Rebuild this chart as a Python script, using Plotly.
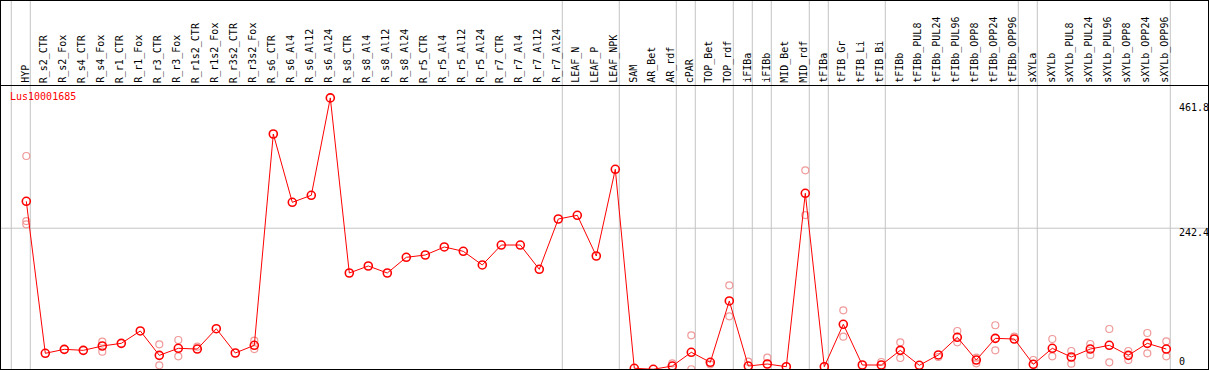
import plotly.graph_objects as go

# ---------------- data ----------------
categories = [
    "HYP", "R_s2_CTR", "R_s2_Fox", "R_s4_CTR", "R_s4_Fox", "R_r1_CTR", "R_r1_Fox",
    "R_r3_CTR", "R_r3_Fox", "R_r1s2_CTR", "R_r1s2_Fox", "R_r3s2_CTR", "R_r3s2_Fox",
    "R_s6_CTR", "R_s6_Al4", "R_s6_Al12", "R_s6_Al24", "R_s8_CTR", "R_s8_Al4",
    "R_s8_Al12", "R_s8_Al24", "R_r5_CTR", "R_r5_Al4", "R_r5_Al12", "R_r5_Al24",
    "R_r7_CTR", "R_r7_Al4", "R_r7_Al12", "R_r7_Al24", "LEAF_N", "LEAF_P", "LEAF_NPK",
    "SAM", "AR_Bet", "AR_rdf", "cPAR", "TOP_Bet", "TOP_rdf", "iFIBa", "iFIBb",
    "MID_Bet", "MID_rdf", "tFIBa", "tFIB_Gr", "tFIB_Li", "tFIB_Bi", "tFIBb",
    "tFIBb_PUL8", "tFIBb_PUL24", "tFIBb_PUL96", "tFIBb_OPP8", "tFIBb_OPP24",
    "tFIBb_OPP96", "sXYLa", "sXYLb", "sXYLb_PUL8", "sXYLb_PUL24", "sXYLb_PUL96",
    "sXYLb_OPP8", "sXYLb_OPP24", "sXYLb_OPP96",
]

mean_values = [
    287.7, 31.8, 38.5, 36.8, 44.1, 48.6, 69.4,
    28.4, 40.2, 39.0, 73.2, 32.3, 45.3,
    401.0, 286.0, 297.8, 461.8, 167.0, 178.8,
    167.0, 193.4, 197.3, 210.8, 203.5, 180.5,
    214.1, 214.1, 173.2, 257.9, 264.1, 195.6, 341.6,
    6.6, 4.9, 10.4, 33.5, 16.7, 119.9, 10.4, 13.8,
    9.3, 301.2, 9.3, 80.6, 12.1, 12.1, 36.8,
    11.6, 29.0, 58.8, 20.5, 57.0,
    55.9, 13.3, 40.2, 25.6, 39.0, 45.3,
    28.4, 48.6, 39.0,
]

rep_categories = [
    "HYP", "HYP", "HYP", "R_s4_Fox", "R_s4_Fox", "R_r3_CTR", "R_r3_CTR",
    "R_r3_Fox", "R_r3_Fox", "R_r1s2_CTR", "R_r3s2_Fox", "R_r3s2_Fox",
    "AR_rdf", "cPAR", "cPAR", "TOP_Bet", "TOP_rdf", "TOP_rdf", "iFIBa", "iFIBb",
    "MID_rdf", "MID_rdf", "tFIB_Gr", "tFIB_Gr", "tFIB_Bi", "tFIBb", "tFIBb",
    "tFIBb_PUL24", "tFIBb_PUL96", "tFIBb_PUL96", "tFIBb_OPP8", "tFIBb_OPP8",
    "tFIBb_OPP24", "tFIBb_OPP24", "tFIBb_OPP96", "sXYLa", "sXYLb", "sXYLb",
    "sXYLb_PUL8", "sXYLb_PUL8", "sXYLb_PUL24", "sXYLb_PUL24", "sXYLb_PUL96",
    "sXYLb_PUL96", "sXYLb_OPP8", "sXYLb_OPP8", "sXYLb_OPP24", "sXYLb_OPP24",
    "sXYLb_OPP96", "sXYLb_OPP96",
]
rep_values = [
    364.0, 254.5, 249.0, 51.4, 34.5, 47.0, 11.6,
    54.2, 26.8, 43.0, 53.0, 39.0,
    15.0, 62.0, 5.0, 13.3, 146.3, 94.1, 17.7, 24.4,
    339.9, 264.6, 104.2, 59.8, 17.2, 50.3, 23.9,
    25.6, 69.4, 50.3, 24.4, 15.0,
    79.0, 36.8, 59.8, 20.5, 55.9, 26.8,
    35.7, 14.3, 47.5, 29.0, 72.7,
    16.7, 35.7, 20.5, 66.0, 31.8,
    52.0, 26.8,
]

# group separators: drawn just after these categories ("" = before the first)
separator_after = ["", "HYP", "R_r7_Al24", "LEAF_NPK", "AR_rdf", "cPAR", "TOP_rdf",
                   "iFIBa", "iFIBb", "MID_rdf", "tFIBa", "tFIB_Bi", "tFIBb_OPP96",
                   "sXYLa", "sXYLb_OPP96"]

gene_name = "Lus10001685"
ytick_values = [0, 242.4, 461.8]
ytick_labels = ["0", "242.4", "461.8"]

# ---------------- layout geometry ----------------
W, H = 1209, 370
X0_PX, X_STEP = 26.3, 19.0          # pixel of first category, pixels per category
Y0_PX, Y_SCALE = 372.2, 0.594        # pixel of value 0, pixels per unit

x_lo = -X0_PX / X_STEP
x_hi = x_lo + W / X_STEP
y_lo = (Y0_PX - H) / Y_SCALE
y_hi = Y0_PX / Y_SCALE

def px_x(p):
    return p / W

def px_y(p):
    return 1 - p / H

idx = {c: i for i, c in enumerate(categories)}
mono = "DejaVu Sans Mono"

fig = go.Figure()

fig.add_trace(go.Scatter(
    x=[idx[c] for c in rep_categories], y=rep_values, mode="markers",
    marker=dict(symbol="circle-open", size=7, color="#f09a9a", line=dict(width=1.2)),
    hoverinfo="skip", showlegend=False,
))
fig.add_trace(go.Scatter(
    x=list(range(len(categories))), y=mean_values, mode="lines+markers",
    line=dict(color="#ff0000", width=1),
    marker=dict(symbol="circle-open", size=8, color="#ff0000", line=dict(width=1.6)),
    text=categories, showlegend=False,
))

shapes = []
# gray separators
for c in separator_after:
    i = idx[c] if c else -1
    shapes.append(dict(type="line", xref="x", yref="paper", x0=i + 0.21, x1=i + 0.21,
                       y0=0, y1=1, line=dict(color="#c4c4c4", width=1), layer="below"))
# horizontal grid line
shapes.append(dict(type="line", xref="paper", yref="y", x0=0, x1=1, y0=ytick_values[1],
                   y1=ytick_values[1], line=dict(color="#c4c4c4", width=1), layer="below"))
# black frame and label separator
for (xa, ya, xb, yb) in [(0.5, 0, 0.5, H), (1208.5, 0, 1208.5, H), (0, 0.5, W, 0.5),
                         (0, 369.5, W, 369.5), (0, 85.5, W, 85.5)]:
    shapes.append(dict(type="line", xref="paper", yref="paper", x0=px_x(xa), x1=px_x(xb),
                       y0=px_y(ya), y1=px_y(yb), line=dict(color="#000000", width=1)))

annotations = []
for i, c in enumerate(categories):
    annotations.append(dict(x=i, y=px_y(84), xref="x", yref="paper", text=c, showarrow=False,
                            textangle=-90, xanchor="center", yanchor="bottom", xshift=-1.5,
                            font=dict(family=mono, size=10, color="#000000"), borderpad=0))
label_centers = [361.7, 232.7, 107.3]
for lab, yc in zip(ytick_labels, label_centers):
    annotations.append(dict(x=px_x(1178), y=px_y(yc), xref="paper", yref="paper", text=lab,
                            showarrow=False, xanchor="left", yanchor="middle",
                            font=dict(family=mono, size=10, color="#000000"), borderpad=0))
annotations.append(dict(x=px_x(9), y=px_y(96.7), xref="paper", yref="paper", text=gene_name,
                        showarrow=False, xanchor="left", yanchor="middle",
                        font=dict(family=mono, size=10, color="#ff0000"), borderpad=0))

fig.update_layout(
    width=W, height=H, margin=dict(l=0, r=0, t=0, b=0, pad=0),
    paper_bgcolor="white", plot_bgcolor="white",
    xaxis=dict(range=[x_lo, x_hi], visible=False, showgrid=False, zeroline=False),
    yaxis=dict(range=[y_lo, y_hi], visible=False, showgrid=False, zeroline=False),
    shapes=shapes, annotations=annotations, showlegend=False,
)

fig.write_html(
    "out.html",
    config={"displayModeBar": False},
    post_script="document.body.style.margin='0';document.body.style.overflow='hidden';",
)
